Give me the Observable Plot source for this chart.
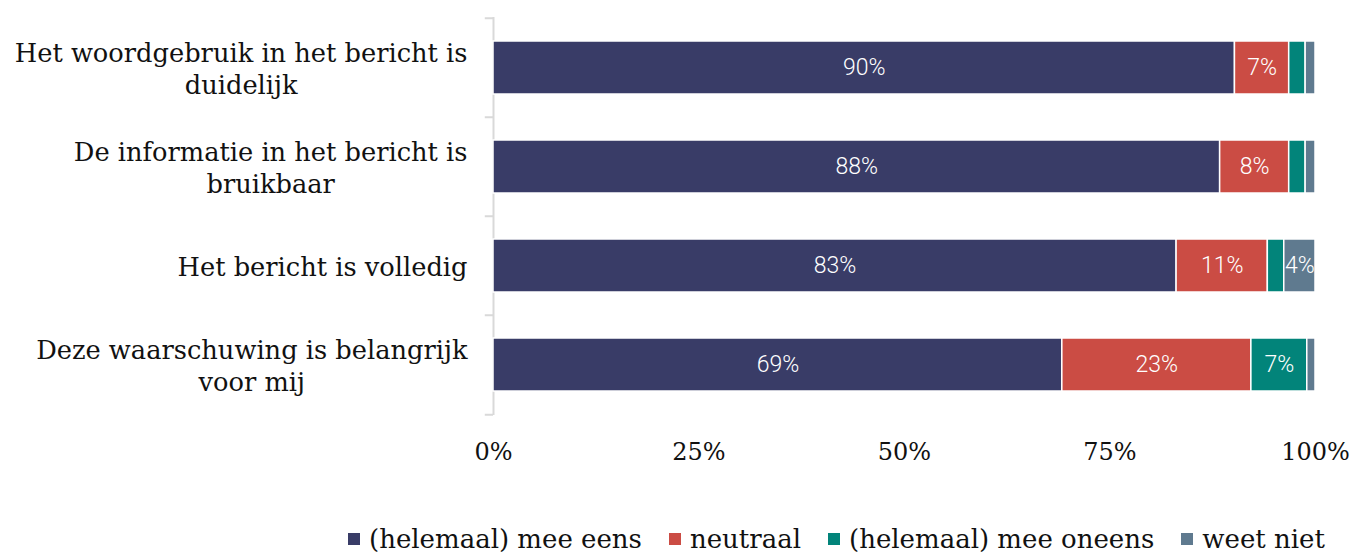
<!DOCTYPE html>
<html>
<head>
<meta charset="utf-8">
<script src="https://cdn.jsdelivr.net/npm/d3@7"></script>
<script src="https://cdn.jsdelivr.net/npm/@observablehq/plot@0.6"></script>
<style>
  html, body { margin: 0; padding: 0; background: #fff; }
  #legend { display: flex; align-items: center; padding-left: 348px; margin-top: 24px;
    font-family: "DejaVu Serif", serif; font-size: 26px; line-height: 30px; color: #111; white-space: nowrap; }
  #legend .item { display: flex; align-items: center; margin-right: 27px; }
  #legend .sw { width: 12px; height: 12px; margin-right: 9px; display: inline-block; }
</style>
</head>
<body>
<div id="chart"></div>
<div id="legend"></div>
<script>
const questions = [
  "Het woordgebruik in het bericht is duidelijk",
  "De informatie in het bericht is bruikbaar",
  "Het bericht is volledig",
  "Deze waarschuwing is belangrijk voor mij"
];
const questionLabels = [
  "Het woordgebruik in het bericht is\nduidelijk",
  "De informatie in het bericht is\nbruikbaar",
  "Het bericht is volledig",
  "Deze waarschuwing is belangrijk\nvoor mij"
];
const responses = ["(helemaal) mee eens", "neutraal", "(helemaal) mee oneens", "weet niet"];
const colors = ["#393c67", "#cb4c44", "#02847a", "#5f7a8f"];
const meeEens   = [90.2, 88.4, 83.1, 69.2];
const neutraal  = [6.6, 8.4, 11.1, 23.0];
const meeOneens = [2.0, 2.0, 2.0, 6.8];
const weetNiet  = [1.2, 1.2, 3.8, 1.0];
const xTicks = [0, 25, 50, 75, 100];

const series = [meeEens, neutraal, meeOneens, weetNiet];
const data = [];
questions.forEach((q, i) => {
  responses.forEach((r, j) => data.push({question: q, response: r, value: series[j][i]}));
});

const width = 1355, height = 500, marginTop = 17, marginBottom = 85;
const step = (height - marginTop - marginBottom) / questions.length;
const axisColor = "#d9d9d9";
const labelFont = "DejaVu Serif", labelSize = 25.7, labelGap = 26;

// measure each label's widest line so every label block is right-aligned but centred internally
const ctx = document.createElement("canvas").getContext("2d");
ctx.font = `${labelSize}px "${labelFont}"`;
const labelMarks = questions.map((q, i) => {
  const w = d3.max(questionLabels[i].split("\n"), s => ctx.measureText(s).width);
  return Plot.text([q], {y: d => d, frameAnchor: "left", dx: -labelGap - w / 2,
    text: () => questionLabels[i], textAnchor: "middle", lineHeight: 1.25,
    fontFamily: labelFont, fontSize: labelSize, fill: "#111"});
});

const chart = Plot.plot({
  width, height,
  marginLeft: 493, marginRight: 40, marginTop, marginBottom,
  x: {domain: [0, 100], axis: null, label: null},
  y: {domain: questions, paddingInner: 0.46, paddingOuter: 0.23, axis: null, label: null},
  color: {domain: responses, range: colors},
  marks: [
    Plot.ruleX([0], {stroke: axisColor, strokeWidth: 2}),
    Plot.ruleY(questions, {y: d => d, dy: -step / 2, x1: -1, x2: 0, stroke: axisColor, strokeWidth: 2}),
    Plot.ruleY(questions.slice(-1), {y: d => d, dy: step / 2, x1: -1, x2: 0, stroke: axisColor, strokeWidth: 2}),
    Plot.barX(data, Plot.stackX({x: "value", y: "question", fill: "response", z: "response", order: responses,
      stroke: "white", strokeWidth: 1.5})),
    Plot.text(data, Plot.stackX({x: "value", y: "question", z: "response", order: responses,
      text: d => d.value >= 3.5 ? Math.round(d.value) + "%" : "",
      fill: "white", fontFamily: "Roboto", fontWeight: 300, fontSize: 23})),
    ...labelMarks,
    Plot.axisX({ticks: xTicks, tickSize: 0, tickPadding: 27, tickFormat: d => d + "%", label: null,
      fontFamily: "DejaVu Serif", fontSize: 24, fill: "#111"})
  ]
});
chart.style.fontFamily = "DejaVu Serif";
document.getElementById("chart").appendChild(chart);

const legend = document.getElementById("legend");
responses.forEach((r, i) => {
  const item = document.createElement("div");
  item.className = "item";
  const sw = document.createElement("span");
  sw.className = "sw";
  sw.style.background = colors[i];
  item.appendChild(sw);
  item.appendChild(document.createTextNode(r));
  legend.appendChild(item);
});
</script>
</body>
</html>
